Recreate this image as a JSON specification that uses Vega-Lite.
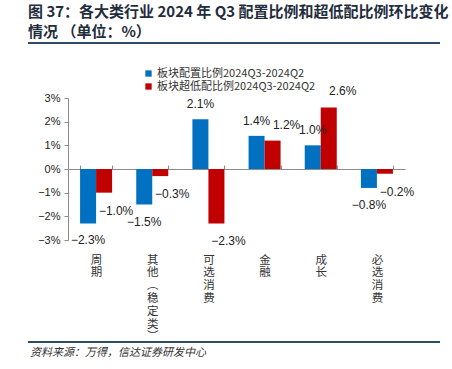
{
  "$schema": "https://vega.github.io/schema/vega-lite/v6.json",
  "width": 337,
  "height": 142,
  "autosize": {"type": "none"},
  "padding": {"left": 68, "top": 98, "right": 47, "bottom": 129},
  "background": "white",
  "config": {"view": {"stroke": null}, "font": "Noto Sans CJK SC"},
  "data": {
    "values": [
      {"category": "周期", "series": "板块配置比例2024Q3-2024Q2", "value": -2.3},
      {"category": "周期", "series": "板块超低配比例2024Q3-2024Q2", "value": -1.0},
      {"category": "其他（稳定类）", "series": "板块配置比例2024Q3-2024Q2", "value": -1.5},
      {"category": "其他（稳定类）", "series": "板块超低配比例2024Q3-2024Q2", "value": -0.3},
      {"category": "可选消费", "series": "板块配置比例2024Q3-2024Q2", "value": 2.1},
      {"category": "可选消费", "series": "板块超低配比例2024Q3-2024Q2", "value": -2.3},
      {"category": "金融", "series": "板块配置比例2024Q3-2024Q2", "value": 1.4},
      {"category": "金融", "series": "板块超低配比例2024Q3-2024Q2", "value": 1.2},
      {"category": "成长", "series": "板块配置比例2024Q3-2024Q2", "value": 1.0},
      {"category": "成长", "series": "板块超低配比例2024Q3-2024Q2", "value": 2.6},
      {"category": "必选消费", "series": "板块配置比例2024Q3-2024Q2", "value": -0.8},
      {"category": "必选消费", "series": "板块超低配比例2024Q3-2024Q2", "value": -0.2}
    ]
  },
  "transform": [
    {"calculate": "replace(format(datum.value, '.1f'), '-', '−') + '%'", "as": "label"}
  ],
  "encoding": {
    "x": {
      "field": "category", "type": "nominal", "sort": null,
      "scale": {"paddingInner": 0.43, "paddingOuter": 0.215},
      "axis": {
        "title": null,
        "offset": -71,
        "domainColor": "#8c8c8c",
        "tickColor": "#8c8c8c",
        "tickBand": "extent",
        "tickSize": -4,
        "labelPadding": 89,
        "labelAngle": 0,
        "labelBaseline": "top",
        "labelFontSize": 11.5,
        "labelLineHeight": 12.8,
        "labelColor": "#333333",
        "labelExpr": "split(replace(replace(datum.label, '（', '︵'), '）', '︶'), '')"
      }
    },
    "xOffset": {"field": "series", "type": "nominal", "sort": null},
    "y": {
      "field": "value", "type": "quantitative",
      "scale": {"domain": [-3, 3], "nice": false},
      "axis": {
        "title": null,
        "values": [-3, -2, -1, 0, 1, 2, 3],
        "grid": false,
        "domainColor": "#8c8c8c",
        "tickColor": "#8c8c8c",
        "tickSize": 4,
        "labelFont": "Liberation Sans",
        "labelFontSize": 11,
        "labelColor": "#222222",
        "labelPadding": 4,
        "labelExpr": "replace(datum.value + '%', '-', '−')"
      }
    }
  },
  "layer": [
    {
      "mark": {"type": "bar"},
      "encoding": {
        "color": {
          "field": "series", "type": "nominal", "sort": null,
          "scale": {"domain": ["板块配置比例2024Q3-2024Q2", "板块超低配比例2024Q3-2024Q2"], "range": ["#0070C0", "#C00000"]},
          "legend": {
            "title": null,
            "orient": "none",
            "legendX": 75,
            "legendY": -30,
            "direction": "vertical",
            "symbolType": "square",
            "symbolSize": 40,
            "symbolStrokeWidth": 0,
            "labelFontSize": 11,
            "labelColor": "#333333",
            "rowPadding": 1,
            "labelOffset": 3
          }
        }
      }
    },
    {
      "transform": [{"filter": "datum.value >= 0 && datum.series == '板块配置比例2024Q3-2024Q2'"}],
      "mark": {"type": "text", "font": "Liberation Sans", "fontSize": 12, "color": "#222222", "dy": -15},
      "encoding": {"text": {"field": "label"}}
    },
    {
      "transform": [{"filter": "datum.value < 0 && datum.series == '板块配置比例2024Q3-2024Q2'"}],
      "mark": {"type": "text", "font": "Liberation Sans", "fontSize": 12, "color": "#222222", "dy": 17},
      "encoding": {"text": {"field": "label"}}
    },
    {
      "transform": [{"filter": "datum.value >= 0 && datum.series == '板块超低配比例2024Q3-2024Q2'"}],
      "mark": {"type": "text", "font": "Liberation Sans", "fontSize": 12, "color": "#222222", "dy": -16, "dx": 14},
      "encoding": {"text": {"field": "label"}}
    },
    {
      "transform": [{"filter": "datum.value < 0 && datum.series == '板块超低配比例2024Q3-2024Q2'"}],
      "mark": {"type": "text", "font": "Liberation Sans", "fontSize": 12, "color": "#222222", "dy": 18, "dx": 12},
      "encoding": {"text": {"field": "label"}}
    },
    {
      "data": {"values": [{}]},
      "mark": {"type": "text", "text": ["图 37：各大类行业 2024 年 Q3 配置比例和超低配比例环比变化", "情况  （单位：%）"], "align": "left", "baseline": "top", "fontSize": 15, "fontWeight": "bold", "lineHeight": 20, "color": "#1f2d3d"},
      "encoding": {"x": {"value": -40}, "y": {"value": -93}, "xOffset": null}
    },
    {
      "data": {"values": [{}]},
      "mark": {"type": "rule", "color": "#2e4a6b", "strokeWidth": 2},
      "encoding": {"x": {"value": -40}, "x2": {"value": 372}, "y": {"value": -55}, "xOffset": null}
    },
    {
      "data": {"values": [{}]},
      "mark": {"type": "rule", "color": "#2e4a6b", "strokeWidth": 2},
      "encoding": {"x": {"value": -40}, "x2": {"value": 372}, "y": {"value": 244}, "xOffset": null}
    },
    {
      "data": {"values": [{}]},
      "mark": {"type": "text", "text": "资料来源：万得，信达证券研发中心", "align": "left", "baseline": "middle", "fontSize": 11, "fontStyle": "italic", "color": "#333333"},
      "encoding": {"x": {"value": -38}, "y": {"value": 255}, "xOffset": null}
    }
  ]
}
